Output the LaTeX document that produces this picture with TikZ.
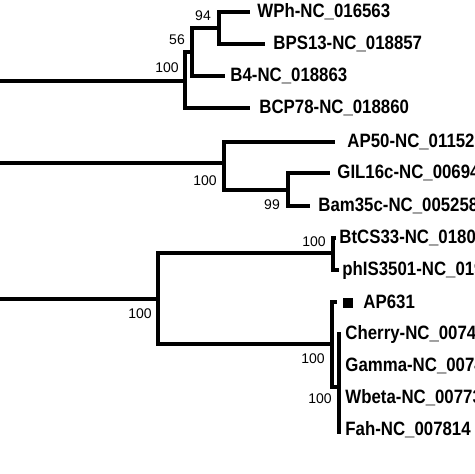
\documentclass[tikz,border=0pt]{standalone}
\usepackage{fontspec}
\setmainfont{Liberation Sans}
\usetikzlibrary{positioning}
\tikzset{
	branch/.style={line width=3pt, line join=miter},
	leaf/.style={anchor=west, inner sep=0pt, xscale=0.87, font=\fontsize{14.5}{16}\selectfont\bfseries},
	boot/.style={inner sep=0pt, font=\fontsize{10.5}{12}\selectfont}}
\tikzset{every picture/.style={line width=0.75pt}}
\begin{document}
\begin{tikzpicture}[x=0.75pt,y=0.75pt,yscale=-1,xscale=1]
	\useasboundingbox [fill=white] (0,0) rectangle (474,474);

	% inner nodes
	\coordinate (nT) at (185,81);
	\coordinate (n56) at (192,52);
	\coordinate (n94) at (219,28);
	\coordinate (nM) at (224,163);
	\coordinate (n99) at (288,190);
	\coordinate (nB) at (158,299);
	\coordinate (nBt) at (333,253);
	\coordinate (nAP) at (332,344);
	\coordinate (nIn) at (339,387);
	% root ends
	\coordinate (rT) at (-5,81);
	\coordinate (rM) at (-5,163);
	\coordinate (rB) at (-5,299);
	% branch tips
	\coordinate (eWPh) at (250,12);
	\coordinate (eBPS) at (265,44);
	\coordinate (eB4) at (225,76);
	\coordinate (eBCP) at (250,108);
	\coordinate (eAP50) at (335,142);
	\coordinate (eGIL) at (330,173);
	\coordinate (eBam) at (310,206);
	\coordinate (eBtCS) at (336,238);
	\coordinate (ephIS) at (339,270);
	\coordinate (eAP631) at (337,302);
	\coordinate (eCherry) at (341,334);
	\coordinate (eFah) at (341,432);

	%Straight Lines: upper clade
	\draw [branch] (rT) -- (nT);
	\draw [branch] (nT) |- (n56);
	\draw [branch] (nT) |- (eBCP);
	\draw [branch] (n56) |- (n94);
	\draw [branch] (n56) |- (eB4);
	\draw [branch] (n94) |- (eWPh);
	\draw [branch] (n94) |- (eBPS);
	%Straight Lines: middle clade
	\draw [branch] (rM) -- (nM);
	\draw [branch] (nM) |- (eAP50);
	\draw [branch] (nM) |- (n99);
	\draw [branch] (n99) |- (eGIL);
	\draw [branch] (n99) |- (eBam);
	%Straight Lines: lower clade
	\draw [branch] (rB) -- (nB);
	\draw [branch] (nB) |- (nBt);
	\draw [branch] (nB) |- (nAP);
	\draw [branch] (nBt) |- (eBtCS);
	\draw [branch] (nBt) |- (ephIS);
	\draw [branch] (nAP) |- (eAP631);
	\draw [branch] (nAP) |- (nIn);
	\draw [branch] (nIn) |- (eCherry);
	\draw [branch] (nIn) |- (eFah);

	% Text Node
	\node [leaf] (WPh) at (257,12) {WPh-NC\_016563};
	\node [leaf] (BPS13) at (273,44) {BPS13-NC\_018857};
	\node [leaf] (B4) at (230,76) {B4-NC\_018863};
	\node [leaf] (BCP78) at (259,108) {BCP78-NC\_018860};
	\node [leaf] (AP50) at (347,142) {AP50-NC\_011523};
	\node [leaf] (GIL16c) at (337,173) {GIL16c-NC\_006945};
	\node [leaf] (Bam35c) at (318,206) {Bam35c-NC\_005258};
	\node [leaf] (BtCS33) at (339,238) {BtCS33-NC\_018085};
	\node [leaf] (phIS3501) at (342,270) {phIS3501-NC\_019502};
	\node [fill=black, inner sep=0pt, minimum size=7.5pt] (mark) at (348,303) {};
	\node [leaf] (AP631) at (363,302) {AP631};
	\node [leaf] (Cherry) at (345,334) {Cherry-NC\_007457};
	\node [leaf] (Gamma) at (345,366) {Gamma-NC\_007458};
	\node [leaf] (Wbeta) at (345,398) {Wbeta-NC\_007734};
	\node [leaf] (Fah) at (345,430) {Fah-NC\_007814};

	% Text Node
	\node [boot] (b94) at (203,16) {94};
	\node [boot] (b56) at (177,40) {56};
	\node [boot] (bT) at (167,68) {100};
	\node [boot] (bM) at (205,181) {100};
	\node [boot] (b99) at (272,205) {99};
	\node [boot] (bB) at (140,314) {100};
	\node [boot] (bBt) at (314,242) {100};
	\node [boot] (bAP) at (313,359) {100};
	\node [boot] (bIn) at (320,399) {100};

\end{tikzpicture}
\end{document}
